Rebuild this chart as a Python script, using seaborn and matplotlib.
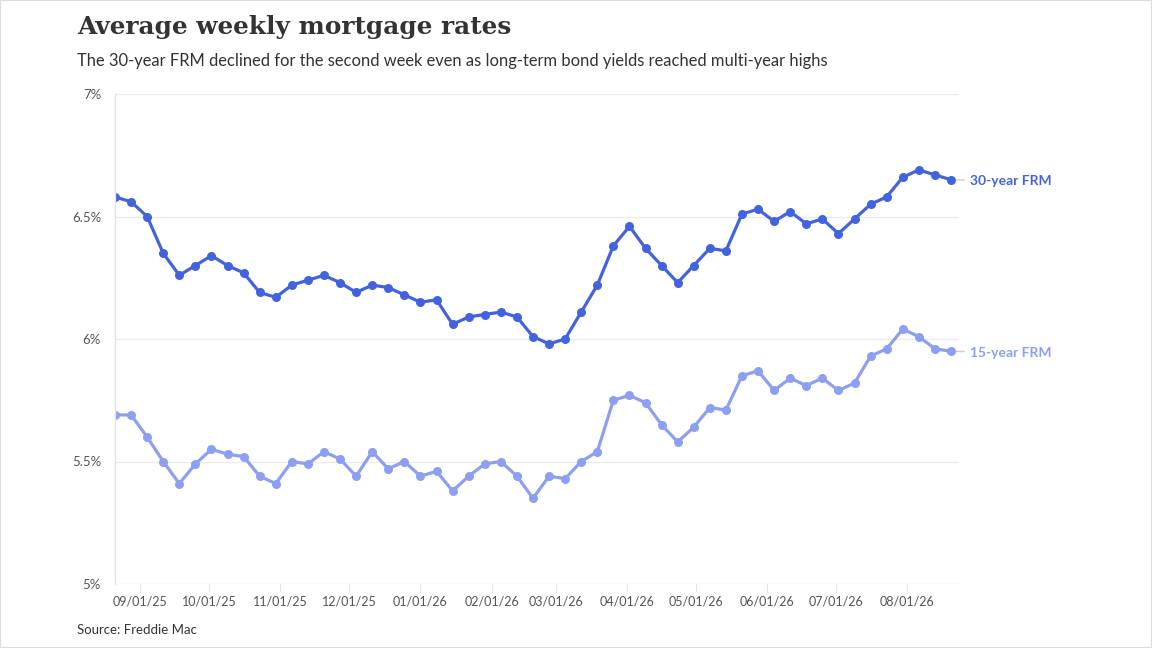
import pandas as pd
import matplotlib
matplotlib.use("Agg")
import matplotlib.pyplot as plt
import matplotlib.dates as mdates
import seaborn as sns

# weekly Freddie Mac PMMS readings (Thursdays)
weeks = pd.date_range("2025-08-21", "2026-08-20", freq="7D")

frm30 = [6.58, 6.56, 6.50, 6.35, 6.26, 6.30, 6.34, 6.30, 6.27, 6.19,
         6.17, 6.22, 6.24, 6.26, 6.23, 6.19, 6.22, 6.21, 6.18, 6.15,
         6.16, 6.06, 6.09, 6.10, 6.11, 6.09, 6.01, 5.98, 6.00, 6.11,
         6.22, 6.38, 6.46, 6.37, 6.30, 6.23, 6.30, 6.37, 6.36, 6.51,
         6.53, 6.48, 6.52, 6.47, 6.49, 6.43, 6.49, 6.55, 6.58, 6.66,
         6.69, 6.67, 6.65]

frm15 = [5.69, 5.69, 5.60, 5.50, 5.41, 5.49, 5.55, 5.53, 5.52, 5.44,
         5.41, 5.50, 5.49, 5.54, 5.51, 5.44, 5.54, 5.47, 5.50, 5.44,
         5.46, 5.38, 5.44, 5.49, 5.50, 5.44, 5.35, 5.44, 5.43, 5.50,
         5.54, 5.75, 5.77, 5.74, 5.65, 5.58, 5.64, 5.72, 5.71, 5.85,
         5.87, 5.79, 5.84, 5.81, 5.84, 5.79, 5.82, 5.93, 5.96, 6.04,
         6.01, 5.96, 5.95]

series_names = ["30-year FRM", "15-year FRM"]
colors = {"30-year FRM": "#4263e0", "15-year FRM": "#8c9ff2"}

y_ticks = [5, 5.5, 6, 6.5, 7]
y_labels = ["5%", "5.5%", "6%", "6.5%", "7%"]

df = pd.DataFrame({"week": list(weeks) * 2,
                   "rate": frm30 + frm15,
                   "series": [series_names[0]] * len(weeks) + [series_names[1]] * len(weeks)})

sns.set_theme(style="white")
plt.rcParams["font.family"] = ["Lato", "DejaVu Sans"]

fig = plt.figure(figsize=(11.52, 6.48), dpi=100)
ax = fig.add_axes([115 / 1152, 64 / 648, 844 / 1152, 490 / 648])

sns.lineplot(data=df, x="week", y="rate", hue="series", palette=colors,
             marker="o", markersize=6.5, markeredgewidth=0, linewidth=2.3,
             legend=False, ax=ax)

ax.set_ylim(5, 7)
ax.set_xlim(weeks[0], weeks[-1] + pd.Timedelta(days=3.5))
ax.set_yticks(y_ticks)
ax.set_yticklabels(y_labels)
ax.xaxis.set_major_locator(mdates.MonthLocator())
ax.xaxis.set_major_formatter(mdates.DateFormatter("%m/%d/%y"))
ax.set_xlabel("")
ax.set_ylabel("")

ax.grid(axis="y", color="#ebebeb", linewidth=1)
ax.set_axisbelow(True)
for s in ["top", "right", "bottom"]:
    ax.spines[s].set_visible(False)
ax.spines["left"].set_color("#e3e3e3")
ax.spines["left"].set_linewidth(1)
ax.tick_params(axis="y", length=0, pad=10, labelsize=9.5, labelcolor="#555555")
ax.tick_params(axis="x", length=6, width=0.8, color="#e3e3e3", direction="out",
               pad=2, labelsize=9, labelcolor="#555555", bottom=True)

# end labels
for name, vals in zip(series_names, [frm30, frm15]):
    ax.annotate(name, xy=(weeks[-1], vals[-1]), xytext=(14, -1),
                textcoords="offset points", ha="left", va="center",
                fontsize=10, fontweight="bold", color=colors[name],
                annotation_clip=False,
                arrowprops=dict(arrowstyle="-", color="#cccccc", lw=1,
                                shrinkA=2, shrinkB=4))

fig.text(77 / 1152, 1 - 27 / 648, "Average weekly mortgage rates",
         fontsize=17.8, fontweight="bold", color="#333333",
         family=["DejaVu Serif"], va="center", ha="left")
fig.text(77 / 1152, 1 - 61 / 648,
         "The 30-year FRM declined for the second week even as long-term bond yields reached multi-year highs",
         fontsize=11.9, color="#333333", va="center", ha="left")
fig.text(77 / 1152, 1 - 630 / 648, "Source: Freddie Mac",
         fontsize=9.5, color="#333333", va="center", ha="left")

fig.patches.append(plt.Rectangle((0, 0), 1, 1, transform=fig.transFigure,
                                 fill=False, edgecolor="#dddddd", linewidth=1.5))

fig.savefig("out.png", dpi=100)
